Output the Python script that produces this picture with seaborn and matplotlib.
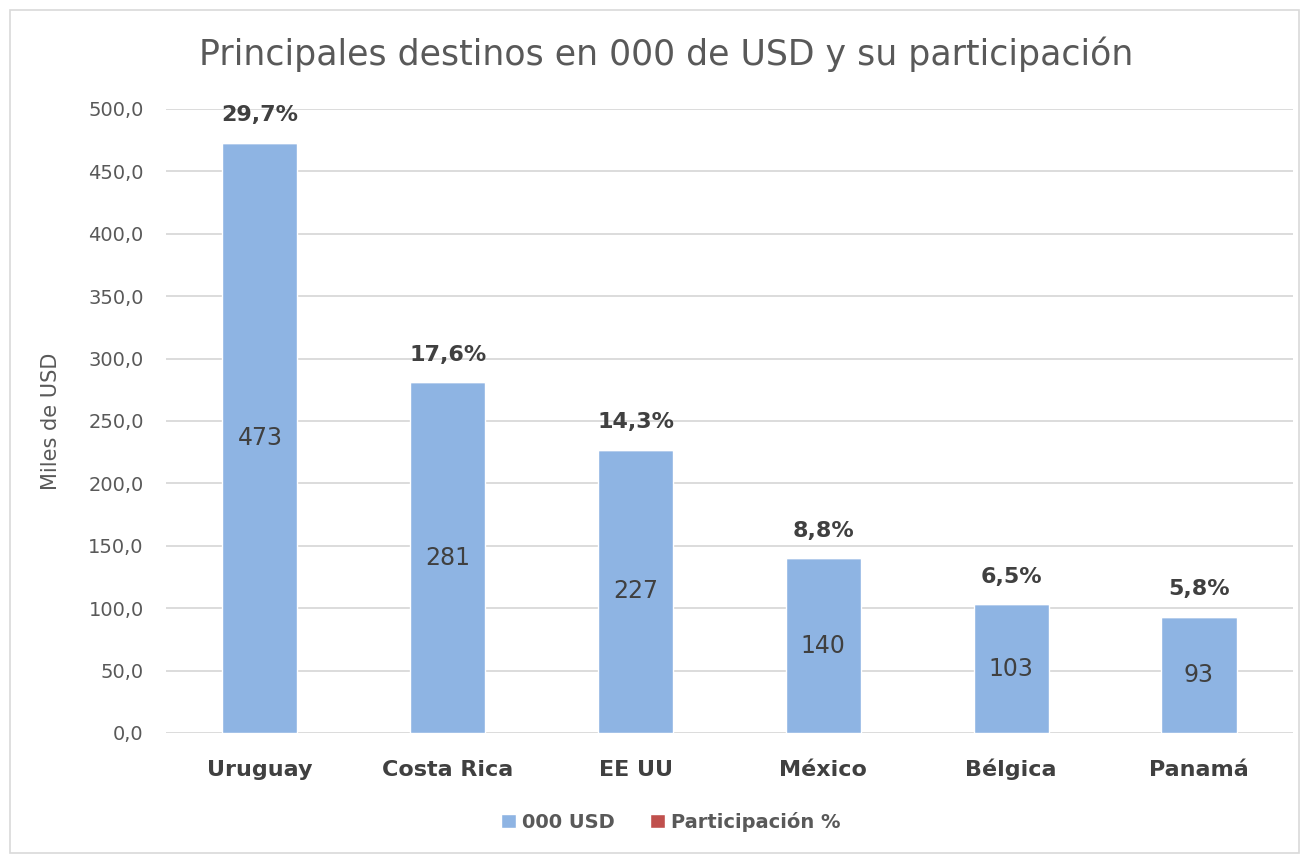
import numpy as np
import pandas as pd
import seaborn as sns
import matplotlib.pyplot as plt
from matplotlib.patches import Patch, Rectangle

paises = ["Uruguay", "Costa Rica", "EE UU", "México", "Bélgica", "Panamá"]
miles_usd = [473, 281, 227, 140, 103, 93]
participacion = [29.7, 17.6, 14.3, 8.8, 6.5, 5.8]
yticks = [0, 50, 100, 150, 200, 250, 300, 350, 400, 450, 500]

azul = "#8EB4E3"
rojo = "#C0504D"
gris = "#595959"

sns.set_theme(style="white")
plt.rcParams["font.family"] = ["DejaVu Sans"]

df = pd.DataFrame({"pais": paises, "usd": miles_usd,
                   "part": np.array(participacion) / 100})

fig = plt.figure(figsize=(13.02, 8.56), dpi=100)
ax = fig.add_axes([0.1275, 0.1437, 0.8655, 0.729])

sns.barplot(data=df, x="pais", y="usd", color=azul, width=0.40,
            saturation=1, ax=ax, zorder=3)
sns.barplot(data=df, x="pais", y="part", color=rojo, width=0.40,
            saturation=1, ax=ax, bottom=df["usd"], zorder=3)

ax.set_ylim(0, 500)
ax.set_xlim(-0.5, 5.5)
ax.set_yticks(yticks)
ax.set_yticklabels([f"{v:.1f}".replace(".", ",") for v in yticks],
                   fontsize=14, color=gris)
ax.tick_params(axis="y", length=0, pad=16)
ax.tick_params(axis="x", length=0, pad=31)
for lbl in ax.get_xticklabels():
    lbl.set_fontsize(16)
    lbl.set_fontweight("bold")
    lbl.set_color("#404040")
    lbl.set_verticalalignment("baseline")
ax.yaxis.grid(True, color="#D9D9D9", linewidth=1.3, zorder=0)
ax.set_axisbelow(True)
for s in ax.spines.values():
    s.set_visible(False)
ax.set_xlabel("")
ax.set_ylabel("Miles de USD", fontsize=15, color=gris, labelpad=20)

for i, (v, p) in enumerate(zip(miles_usd, participacion)):
    ax.text(i, v / 2, f"{v}", ha="center", va="center", fontsize=17, color="#404040")
    ax.text(i, v + 14, f"{p:.1f}%".replace(".", ","), ha="center", va="bottom",
            fontsize=16, fontweight="bold", color="#404040")

fig.text(0.512, 0.937, "Principales destinos en 000 de USD y su participación",
         ha="center", va="center", fontsize=25, color=gris)

handles = [Patch(facecolor=azul, label="000 USD"),
           Patch(facecolor=rojo, label="Participación %")]
leg = fig.legend(handles=handles, loc="center", bbox_to_anchor=(0.515, 0.04),
                 ncol=2, frameon=False, handlelength=0.8, handleheight=0.8,
                 handletextpad=0.3, columnspacing=1.8,
                 prop={"size": 14, "weight": "bold"})
for t in leg.get_texts():
    t.set_color(gris)

fig.patches.append(Rectangle((0.008, 0.003), 0.99, 0.985, transform=fig.transFigure,
                             fill=False, edgecolor="#D9D9D9", linewidth=1.2))

fig.savefig("out.png", dpi=100)
